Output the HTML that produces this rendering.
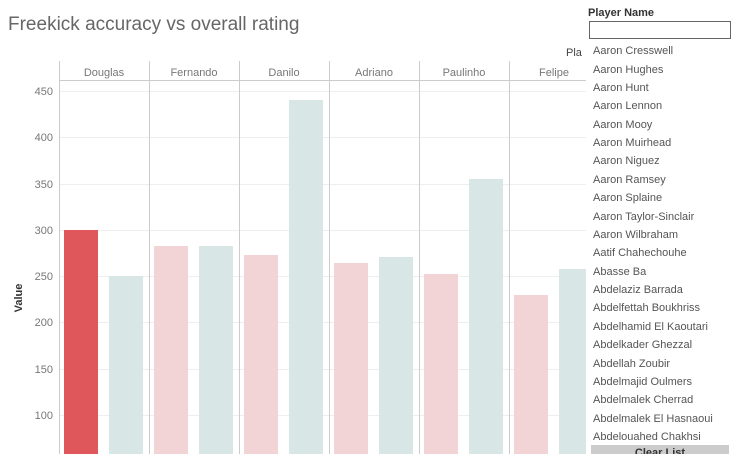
<!DOCTYPE html><html><head><style>
body{margin:0;width:736px;height:454px;overflow:hidden;background:#fff;font-family:"Liberation Sans",sans-serif;position:relative}
.a{position:absolute}
.li{position:absolute;left:593px;font-size:11px;color:#555}
</style></head><body>
<svg class="a" style="left:0;top:0" width="736" height="454">
<text x="8" y="30" font-size="19" fill="#666" font-family="Liberation Sans">Freekick accuracy vs overall rating</text>
<g stroke="#eee" stroke-width="1">
<line x1="59" x2="590" y1="91.5" y2="91.5"/><line x1="59" x2="590" y1="137.5" y2="137.5"/><line x1="59" x2="590" y1="184.5" y2="184.5"/><line x1="59" x2="590" y1="230.5" y2="230.5"/><line x1="59" x2="590" y1="276.5" y2="276.5"/><line x1="59" x2="590" y1="322.5" y2="322.5"/><line x1="59" x2="590" y1="369.5" y2="369.5"/><line x1="59" x2="590" y1="415.5" y2="415.5"/>
</g>
<g>
<rect x="64" y="230" width="34" height="224" fill="#e0575b"/>
<rect x="109" y="276" width="34" height="178" fill="#d9e6e6"/>
<rect x="154" y="246" width="34" height="208" fill="#f2d4d6"/>
<rect x="199" y="246" width="34" height="208" fill="#d9e6e6"/>
<rect x="244" y="255" width="34" height="199" fill="#f2d4d6"/>
<rect x="289" y="100" width="34" height="354" fill="#d9e6e6"/>
<rect x="334" y="263" width="34" height="191" fill="#f2d4d6"/>
<rect x="379" y="257" width="34" height="197" fill="#d9e6e6"/>
<rect x="424" y="274" width="34" height="180" fill="#f2d4d6"/>
<rect x="469" y="179" width="34" height="275" fill="#d9e6e6"/>
<rect x="514" y="295" width="34" height="159" fill="#f2d4d6"/>
<rect x="559" y="269" width="34" height="185" fill="#d9e6e6"/>
</g>
<g stroke="#ccc" stroke-width="1">
<line x1="59.5" x2="59.5" y1="61" y2="454"/><line x1="149.5" x2="149.5" y1="61" y2="454"/><line x1="239.5" x2="239.5" y1="61" y2="454"/><line x1="329.5" x2="329.5" y1="61" y2="454"/><line x1="419.5" x2="419.5" y1="61" y2="454"/><line x1="509.5" x2="509.5" y1="61" y2="454"/>
<line x1="59" x2="590" y1="80.5" y2="80.5"/>
</g>
<g font-size="11" fill="#777" text-anchor="middle" font-family="Liberation Sans">
<text x="104" y="76">Douglas</text><text x="194" y="76">Fernando</text><text x="284" y="76">Danilo</text><text x="374" y="76">Adriano</text><text x="464" y="76">Paulinho</text><text x="554" y="76">Felipe</text>
</g>
<g font-size="11" fill="#777" text-anchor="end" font-family="Liberation Sans">
<text x="53" y="95">450</text><text x="53" y="141">400</text><text x="53" y="188">350</text><text x="53" y="234">300</text><text x="53" y="280">250</text><text x="53" y="326">200</text><text x="53" y="373">150</text><text x="53" y="419">100</text>
</g>
<text transform="translate(22,298) rotate(-90)" font-size="11" font-weight="bold" fill="#333" text-anchor="middle" font-family="Liberation Sans">Value</text>
<rect x="586" y="40" width="150" height="414" fill="#fff"/>
<rect x="562" y="44" width="24" height="16" fill="#fff"/>
<text x="566" y="56" font-size="11" fill="#444" font-family="Liberation Sans">Pla</text>
<text x="588" y="16" font-size="11" font-weight="bold" fill="#333" font-family="Liberation Sans">Player Name</text>
<rect x="589.5" y="21.5" width="141" height="17" fill="#fff" stroke="#666"/>
<rect x="591" y="445" width="138" height="9" fill="#ccc"/>
<text x="660" y="456" font-size="11" font-weight="bold" fill="#333" text-anchor="middle" font-family="Liberation Sans">Clear List</text>
</svg>
<div class="li" style="top:45px">Aaron Cresswell</div>
<div class="li" style="top:64px">Aaron Hughes</div>
<div class="li" style="top:82px">Aaron Hunt</div>
<div class="li" style="top:100px">Aaron Lennon</div>
<div class="li" style="top:119px">Aaron Mooy</div>
<div class="li" style="top:137px">Aaron Muirhead</div>
<div class="li" style="top:155px">Aaron Niguez</div>
<div class="li" style="top:174px">Aaron Ramsey</div>
<div class="li" style="top:192px">Aaron Splaine</div>
<div class="li" style="top:211px">Aaron Taylor-Sinclair</div>
<div class="li" style="top:229px">Aaron Wilbraham</div>
<div class="li" style="top:247px">Aatif Chahechouhe</div>
<div class="li" style="top:266px">Abasse Ba</div>
<div class="li" style="top:284px">Abdelaziz Barrada</div>
<div class="li" style="top:302px">Abdelfettah Boukhriss</div>
<div class="li" style="top:321px">Abdelhamid El Kaoutari</div>
<div class="li" style="top:339px">Abdelkader Ghezzal</div>
<div class="li" style="top:358px">Abdellah Zoubir</div>
<div class="li" style="top:376px">Abdelmajid Oulmers</div>
<div class="li" style="top:394px">Abdelmalek Cherrad</div>
<div class="li" style="top:413px">Abdelmalek El Hasnaoui</div>
<div class="li" style="top:431px">Abdelouahed Chakhsi</div>
</body></html>
